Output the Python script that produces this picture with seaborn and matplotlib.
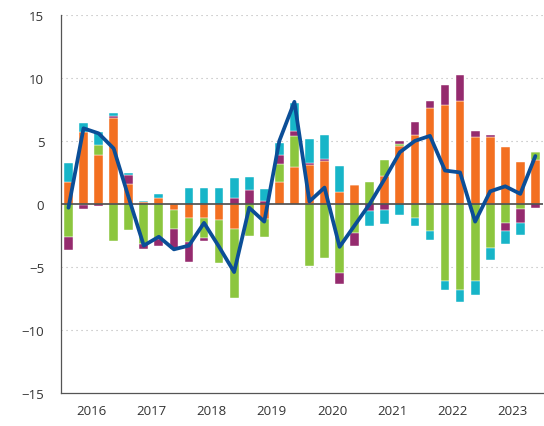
import numpy as np
import pandas as pd
import matplotlib
matplotlib.use('Agg')
import matplotlib.pyplot as plt
import seaborn as sns

# Quarterly data, 2016Q1 - 2023Q4
years = ['2016', '2017', '2018', '2019', '2020', '2021', '2022', '2023']
quarters = [f'{y}Q{q}' for y in years for q in range(1, 5)]

orange = [1.75, 5.7, 3.9, 6.8, 1.55, 0.13, 0.5, -0.45,
          -1.08, -1.08, -1.3, -1.96, 0.0, -1.2, 1.72, 2.9,
          3.1, 3.4, 0.93, 1.5, 0.0, 2.2, 4.58, 5.5,
          7.57, 7.88, 8.2, 5.32, 5.34, 4.5, 3.3, 3.47]
green = [-2.6, -0.1, 0.8, -2.9, -2.1, -3.2, -2.8, -1.5,
         -1.93, -1.6, -3.36, -5.48, -2.54, -1.45, 1.43, 2.46,
         -4.9, -4.3, -5.45, -2.33, 1.75, 1.3, 0.16, -1.1,
         -2.14, -6.08, -6.85, -6.08, -3.47, -1.53, -0.37, 0.66]
purple = [-1.05, -0.3, -0.2, 0.15, 0.75, -0.37, -0.55, -1.6,
          -1.6, -0.24, 0.0, 0.5, 1.08, 0.26, 0.7, 0.4,
          0.13, 0.13, -0.87, -1.03, -0.58, -0.48, 0.26, 1.03,
          0.63, 1.56, 2.06, 0.5, 0.1, -0.63, -1.14, -0.32]
teal = [1.5, 0.7, 1.0, 0.25, 0.15, 0.13, 0.26, 0.0,
        1.3, 1.3, 1.3, 1.56, 1.06, 0.93, 1.0, 2.25,
        1.9, 1.96, 2.06, 0.0, -1.14, -1.14, -0.9, -0.66,
        -0.69, -0.71, -0.93, -1.11, -1.0, -0.98, -0.98, 0.0]
total = [-0.3, 6.0, 5.6, 4.4, 0.5, -3.3, -2.6, -3.6,
         -3.3, -1.5, -3.4, -5.4, -0.3, -1.4, 5.0, 8.1,
         0.2, 1.3, -3.4, -1.7, 0.0, 2.0, 4.1, 5.0,
         5.4, 2.65, 2.5, -1.4, 1.0, 1.4, 0.8, 3.8]

colors = {'orange': '#f37021', 'green': '#8cc63e', 'purple': '#952b6e', 'teal': '#17b5c8'}
line_color = '#0b4e97'

df = pd.DataFrame({'quarter': quarters, 'orange': orange, 'green': green,
                   'purple': purple, 'teal': teal, 'total': total})
df['x'] = np.arange(len(df))

sns.set_style('white')
plt.rcParams['font.family'] = ['Open Sans', 'DejaVu Sans']

fig = plt.figure(figsize=(5.44, 4.27), dpi=100)
ax = fig.add_axes([0.112, 0.077, 0.886, 0.886])

# dotted gridlines
for yv in [-10, -5, 5, 10, 15]:
    ax.axhline(yv, color='#b5b5b5', linestyle=(0, (1, 3.5)), linewidth=0.8, zorder=0)

# diverging stacked bars
pos_bottom = np.zeros(len(df))
neg_bottom = np.zeros(len(df))
for name in ['orange', 'green', 'purple', 'teal']:
    vals = df[name].to_numpy()
    bottoms = np.where(vals >= 0, pos_bottom, neg_bottom)
    ax.bar(df['x'], vals, bottom=bottoms, width=0.58, color=colors[name],
           edgecolor='white', linewidth=0.3, zorder=2)
    pos_bottom += np.clip(vals, 0, None)
    neg_bottom += np.clip(vals, None, 0)

ax.axhline(0, color='#4a4a4a', linewidth=1.2, zorder=3)

sns.lineplot(x='x', y='total', data=df, color=line_color, linewidth=2.7,
             ax=ax, zorder=4, legend=False)

ax.set_xlim(-0.5, len(df) - 0.5)
ax.set_ylim(-15, 15)
ax.set_yticks(range(-15, 16, 5))
ax.set_yticklabels([str(v).replace('-', '\u2212') for v in range(-15, 16, 5)])

ax.set_xticks(np.arange(-0.5, len(df), 4))
ax.set_xticklabels([])
ax.set_xticks(np.arange(1.5, len(df), 4), minor=True)
ax.set_xticklabels(years, minor=True)
ax.tick_params(axis='x', which='major', direction='in', length=4, color='#555555', width=0.9)
ax.tick_params(axis='x', which='minor', length=0, pad=8, labelsize=9.5, labelcolor='#333333')
ax.tick_params(axis='y', direction='out', length=8, color='#555555', width=0.9,
               labelsize=9.5, labelcolor='#333333', pad=4)

for s in ['top', 'right']:
    ax.spines[s].set_visible(False)
for s in ['left', 'bottom']:
    ax.spines[s].set_color('#555555')
    ax.spines[s].set_linewidth(0.9)

ax.set_xlabel('')
ax.set_ylabel('')

fig.savefig('out.png', dpi=100)
